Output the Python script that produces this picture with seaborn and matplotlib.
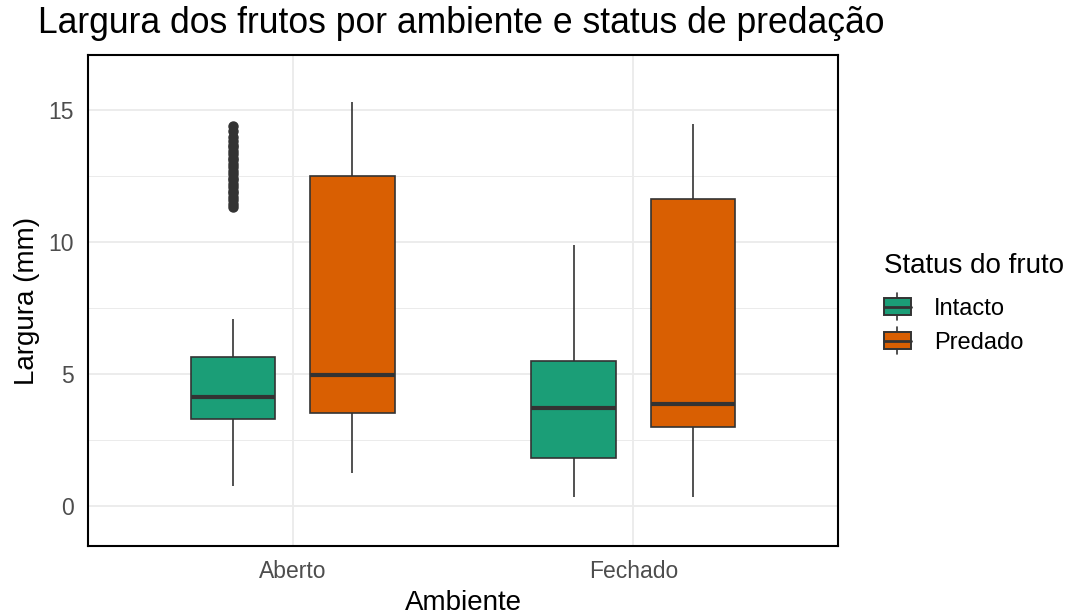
import matplotlib
matplotlib.use("Agg")
import matplotlib.pyplot as plt
import seaborn as sns
import pandas as pd
from matplotlib.ticker import MultipleLocator
from matplotlib.legend_handler import HandlerBase
from matplotlib.patches import Rectangle, Patch
from matplotlib.lines import Line2D

# largura (mm) por grupo
ambientes = ["Aberto", "Fechado"]
status = ["Intacto", "Predado"]

aberto_intacto = [0.76,
                  1.0, 1.3, 1.5, 1.7, 1.9, 2.0, 2.1, 2.2, 2.3, 2.4, 2.5, 2.55,
                  2.6, 2.65, 2.7, 2.75, 2.8, 2.85, 2.9, 2.95, 3.0, 3.1, 3.15, 3.2,
                  3.29,
                  3.32, 3.35, 3.38, 3.41, 3.44, 3.47, 3.5, 3.53, 3.56, 3.59, 3.62, 3.65,
                  3.68, 3.71, 3.74, 3.77, 3.8, 3.84, 3.88, 3.92, 3.96, 4.0, 4.04, 4.08,
                  4.12,
                  4.18, 4.24, 4.3, 4.36, 4.42, 4.48, 4.54, 4.6, 4.66, 4.72, 4.78, 4.84,
                  4.9, 4.96, 5.02, 5.08, 5.14, 5.2, 5.26, 5.32, 5.38, 5.44, 5.5, 5.56,
                  5.63,
                  7.1,
                  11.35, 11.45, 11.6, 11.7, 11.85, 11.95, 12.1, 12.2, 12.35, 12.45,
                  12.6, 12.7, 12.85, 12.95, 13.1, 13.2, 13.35, 13.45, 13.6, 13.7,
                  13.85, 14.0, 14.2, 14.4]
aberto_predado = [1.24, 3.52, 4.95, 12.5, 15.32]
fechado_intacto = [0.35, 1.83, 3.71, 5.48, 9.88]
fechado_predado = [0.35, 3.01, 3.86, 11.64, 14.5]

grupos = {
    ("Aberto", "Intacto"): aberto_intacto,
    ("Aberto", "Predado"): aberto_predado,
    ("Fechado", "Intacto"): fechado_intacto,
    ("Fechado", "Predado"): fechado_predado,
}
rows = []
for (amb, st), vals in grupos.items():
    for v in vals:
        rows.append({"Ambiente": amb, "Status do fruto": st, "Largura": v})
df = pd.DataFrame(rows)

cores = {"Intacto": "#1B9E77", "Predado": "#D95F02"}
edge = "#333333"

sns.set_style("white")
plt.rcParams["font.family"] = ["Liberation Sans", "DejaVu Sans"]
plt.rcParams["text.color"] = "black"

fig = plt.figure(figsize=(10.76, 6.14), dpi=100)
ax = fig.add_axes([0.0818, 0.1107, 0.697, 0.7997])

sns.boxplot(data=df, x="Ambiente", y="Largura", hue="Status do fruto",
            order=ambientes, hue_order=status, palette=cores,
            width=0.7, gap=0.29, linewidth=1.2, linecolor=edge,
            showcaps=False, saturation=1,
            medianprops=dict(linewidth=3.0, color=edge),
            flierprops=dict(marker="o", markersize=6.5, markerfacecolor=edge,
                            markeredgecolor=edge),
            legend=False, ax=ax)

ax.set_xlim(-0.6, 1.6)
ax.set_ylim(-1.52, 17.1)
ax.set_yticks([0, 5, 10, 15])
ax.yaxis.set_minor_locator(MultipleLocator(2.5))
ax.set_axisbelow(True)
ax.grid(which="major", color="#EBEBEB", linewidth=1.3)
ax.grid(which="minor", axis="y", color="#EBEBEB", linewidth=0.7)
for s in ax.spines.values():
    s.set_color("black")
    s.set_linewidth(1.5)
ax.tick_params(axis="both", which="both", length=0, labelsize=16.5, labelcolor="#4D4D4D")
ax.tick_params(axis="y", pad=10)
ax.tick_params(axis="x", pad=10)

ax.set_xlabel("Ambiente", fontsize=20, color="black", labelpad=5)
ax.set_ylabel("Largura (mm)", fontsize=20, color="black", labelpad=6)
fig.text(0.0353, 0.962, "Largura dos frutos por ambiente e status de predação",
         fontsize=25.6, ha="left", va="center", color="black")


class BoxKey(HandlerBase):
    def create_artists(self, legend, orig_handle, xdescent, ydescent,
                       width, height, fontsize, trans):
        x0, y0 = -xdescent, -ydescent
        cx = x0 + width / 2
        w = Line2D([cx, cx], [y0 - 0.3 * height, y0 + 1.3 * height],
                   color=edge, lw=1.2, transform=trans)
        r = Rectangle((x0, y0), width, height, facecolor=orig_handle.get_facecolor(),
                      edgecolor=edge, lw=1.4, transform=trans)
        m = Line2D([x0, x0 + width], [y0 + height / 2] * 2, color=edge, lw=2,
                   transform=trans)
        return [w, r, m]


handles = [Patch(facecolor=cores[s]) for s in status]
leg = ax.legend(handles, status, title="Status do fruto", frameon=False,
                loc="upper left", bbox_to_anchor=(1.033, 0.641),
                fontsize=17, title_fontsize=20, handlelength=1.14,
                handleheight=0.72, labelspacing=0.5, handletextpad=0.97,
                borderpad=0.4, handler_map={Patch: BoxKey()})
leg._legend_box.align = "left"
leg._legend_box.sep = 14
for t in leg.get_texts():
    t.set_color("black")
leg.get_title().set_color("black")

fig.savefig("out.png", dpi=100)
